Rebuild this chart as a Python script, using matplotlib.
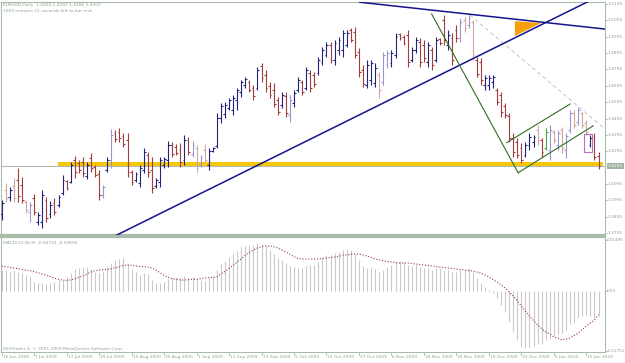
import matplotlib
matplotlib.use("Agg")
import matplotlib.pyplot as plt
from matplotlib.patches import Rectangle, Polygon
import numpy as np

W, H = 625, 363

title_text = "EURUSD,Daily  1.4264 1.4292 1.4186 1.4203"
timer_text = "1069 minutes 21 seconds left to bar end"
macd_text = "MACD(12,26,9) -0.00731 -0.00695"
copyright_text = "SSGTrader 4, \u00a9 2001-2009 MetaQuotes Software Corp."

date_labels = ["26 Jun 2009", "7 Jul 2009", "17 Jul 2009", "29 Jul 2009", "10 Aug 2009",
               "20 Aug 2009", "1 Sep 2009", "11 Sep 2009", "23 Sep 2009", "5 Oct 2009",
               "15 Oct 2009", "27 Oct 2009", "6 Nov 2009", "18 Nov 2009", "30 Nov 2009",
               "10 Dec 2009", "22 Dec 2009", "5 Jan 2010", "15 Jan 2010"]
date_idx = [0, 8, 16, 24, 32, 40, 48, 56, 64, 72, 80, 88, 96, 104, 112, 120, 128, 136, 144]

price_ticks = [1.5195, 1.5095, 1.4995, 1.4895, 1.4795, 1.4695, 1.4595, 1.4495,
               1.4395, 1.4295, 1.4095, 1.3995, 1.3895, 1.3795]
price_tick_labels = ["1.5195", "1.5095", "1.4995", "1.4895", "1.4795", "1.4695", "1.4595",
                     "1.4495", "1.4395", "1.4295", "1.4095", "1.3995", "1.3895", "1.3795"]
bid_price = 1.4203
macd_ticks = [0.01496, 0.0, -0.01751]
macd_tick_labels = ["0.01496", "0.00", "-0.01751"]

highs = [1.3997, 1.4101, 1.4077, 1.4132, 1.4193, 1.4138, 1.3997, 1.3985, 1.4034, 1.3924,
         1.4059, 1.4016, 1.3991, 1.4010, 1.4028, 1.4150, 1.4120, 1.4230, 1.4266, 1.4242,
         1.4260, 1.4230, 1.4285, 1.4211, 1.4181, 1.4089, 1.4260, 1.4431, 1.4425, 1.4437,
         1.4407, 1.4407, 1.4181, 1.4169, 1.4211, 1.4315, 1.4291, 1.4260, 1.4132, 1.4260,
         1.4260, 1.4358, 1.4352, 1.4340, 1.4346, 1.4395, 1.4382, 1.4358, 1.4334, 1.4272,
         1.4340, 1.4315, 1.4321, 1.4529, 1.4590, 1.4596, 1.4621, 1.4639, 1.4682, 1.4731,
         1.4749, 1.4731, 1.4700, 1.4810, 1.4835, 1.4792, 1.4718, 1.4712, 1.4627, 1.4657,
         1.4657, 1.4639, 1.4670, 1.4749, 1.4731, 1.4810, 1.4792, 1.4780, 1.4871, 1.4932,
         1.4963, 1.4963, 1.4975, 1.4993, 1.5036, 1.5036, 1.5048, 1.5055, 1.4926, 1.4822,
         1.4853, 1.4853, 1.4835, 1.4780, 1.4902, 1.4914, 1.4914, 1.5018, 1.5018, 1.5006,
         1.5036, 1.4932, 1.4993, 1.4987, 1.4975, 1.4963, 1.4932, 1.4993, 1.4987, 1.5128,
         1.5036, 1.5018, 1.5067, 1.5110, 1.5116, 1.5128, 1.5097, 1.4871, 1.4865, 1.4761,
         1.4761, 1.4761, 1.4682, 1.4657, 1.4590, 1.4529, 1.4407, 1.4376, 1.4346, 1.4352,
         1.4407, 1.4395, 1.4456, 1.4376, 1.4437, 1.4456, 1.4425, 1.4425, 1.4444, 1.4407,
         1.4547, 1.4547, 1.4566, 1.4535, 1.4486, 1.4395, 1.4407, 1.4292]
lows = [1.3875, 1.3985, 1.3991, 1.3985, 1.3985, 1.3979, 1.3918, 1.3863, 1.3906, 1.3845,
        1.3826, 1.3863, 1.3888, 1.3906, 1.3955, 1.4028, 1.4059, 1.4101, 1.4132, 1.4162,
        1.4138, 1.4126, 1.4169, 1.4138, 1.3997, 1.4010, 1.4169, 1.4193, 1.4352, 1.4352,
        1.4321, 1.4138, 1.4089, 1.4107, 1.4077, 1.4162, 1.4138, 1.4040, 1.4071, 1.4077,
        1.4193, 1.4199, 1.4260, 1.4272, 1.4199, 1.4211, 1.4272, 1.4260, 1.4169, 1.4199,
        1.4230, 1.4181, 1.4291, 1.4315, 1.4468, 1.4499, 1.4547, 1.4517, 1.4547, 1.4627,
        1.4682, 1.4657, 1.4609, 1.4670, 1.4718, 1.4657, 1.4621, 1.4566, 1.4517, 1.4560,
        1.4505, 1.4474, 1.4566, 1.4657, 1.4639, 1.4670, 1.4657, 1.4688, 1.4761, 1.4822,
        1.4871, 1.4835, 1.4822, 1.4883, 1.4871, 1.4932, 1.4963, 1.4865, 1.4749, 1.4688,
        1.4682, 1.4700, 1.4688, 1.4621, 1.4700, 1.4804, 1.4810, 1.4865, 1.4975, 1.4945,
        1.4810, 1.4841, 1.4896, 1.4810, 1.4841, 1.4810, 1.4792, 1.4841, 1.4945, 1.4945,
        1.4914, 1.4822, 1.4963, 1.4963, 1.5024, 1.5048, 1.4853, 1.4749, 1.4700, 1.4670,
        1.4670, 1.4682, 1.4578, 1.4505, 1.4499, 1.4352, 1.4260, 1.4254, 1.4224, 1.4260,
        1.4303, 1.4321, 1.4334, 1.4260, 1.4303, 1.4242, 1.4346, 1.4303, 1.4285, 1.4254,
        1.4407, 1.4437, 1.4456, 1.4437, 1.4395, 1.4321, 1.4242, 1.4186]
opens = [1.3912, 1.4059, 1.4016, 1.4083, 1.4120, 1.4089, 1.3985, 1.3924, 1.4010, 1.3863,
         1.3863, 1.3997, 1.3912, 1.3979, 1.3967, 1.4040, 1.4114, 1.4107, 1.4242, 1.4224,
         1.4230, 1.4144, 1.4254, 1.4199, 1.4156, 1.4028, 1.4181, 1.4242, 1.4407, 1.4413,
         1.4389, 1.4364, 1.4169, 1.4120, 1.4101, 1.4181, 1.4272, 1.4181, 1.4083, 1.4107,
         1.4211, 1.4242, 1.4334, 1.4321, 1.4303, 1.4242, 1.4364, 1.4279, 1.4315, 1.4211,
         1.4303, 1.4211, 1.4297, 1.4327, 1.4499, 1.4523, 1.4560, 1.4547, 1.4609, 1.4657,
         1.4700, 1.4718, 1.4682, 1.4682, 1.4816, 1.4761, 1.4694, 1.4670, 1.4609, 1.4578,
         1.4633, 1.4517, 1.4590, 1.4670, 1.4718, 1.4682, 1.4773, 1.4761, 1.4773, 1.4841,
         1.4883, 1.4945, 1.4853, 1.4914, 1.4914, 1.4945, 1.5036, 1.5024, 1.4902, 1.4792,
         1.4700, 1.4731, 1.4712, 1.4761, 1.4718, 1.4822, 1.4835, 1.4883, 1.5012, 1.4993,
         1.5006, 1.4853, 1.4914, 1.4963, 1.4945, 1.4841, 1.4914, 1.4853, 1.4981, 1.5097,
         1.4945, 1.4987, 1.5036, 1.4987, 1.5097, 1.5067, 1.5085, 1.4853, 1.4841, 1.4700,
         1.4700, 1.4718, 1.4670, 1.4639, 1.4572, 1.4511, 1.4376, 1.4352, 1.4315, 1.4272,
         1.4334, 1.4352, 1.4425, 1.4364, 1.4315, 1.4303, 1.4413, 1.4334, 1.4425, 1.4303,
         1.4425, 1.4529, 1.4474, 1.4529, 1.4468, 1.4334, 1.4382, 1.4264]
closes = [1.3979, 1.4010, 1.4059, 1.4010, 1.4022, 1.3997, 1.3936, 1.3967, 1.3924, 1.3906,
          1.4028, 1.3888, 1.3967, 1.3924, 1.4016, 1.4120, 1.4071, 1.4211, 1.4169, 1.4181,
          1.4162, 1.4211, 1.4193, 1.4150, 1.4028, 1.4077, 1.4242, 1.4395, 1.4370, 1.4376,
          1.4340, 1.4169, 1.4107, 1.4156, 1.4193, 1.4291, 1.4169, 1.4071, 1.4120, 1.4242,
          1.4248, 1.4334, 1.4279, 1.4285, 1.4230, 1.4364, 1.4291, 1.4334, 1.4193, 1.4260,
          1.4242, 1.4297, 1.4315, 1.4499, 1.4572, 1.4578, 1.4609, 1.4621, 1.4670, 1.4718,
          1.4737, 1.4670, 1.4633, 1.4792, 1.4743, 1.4682, 1.4639, 1.4584, 1.4535, 1.4639,
          1.4529, 1.4609, 1.4651, 1.4731, 1.4657, 1.4792, 1.4682, 1.4706, 1.4853, 1.4914,
          1.4945, 1.4853, 1.4957, 1.4975, 1.5018, 1.5018, 1.4975, 1.4883, 1.4780, 1.4706,
          1.4822, 1.4835, 1.4804, 1.4670, 1.4883, 1.4896, 1.4896, 1.5000, 1.4987, 1.4957,
          1.4841, 1.4914, 1.4975, 1.4841, 1.4865, 1.4945, 1.4822, 1.4975, 1.4957, 1.4975,
          1.5006, 1.4853, 1.4987, 1.5085, 1.5048, 1.5110, 1.4883, 1.4767, 1.4731, 1.4743,
          1.4743, 1.4749, 1.4596, 1.4535, 1.4517, 1.4376, 1.4291, 1.4272, 1.4242, 1.4334,
          1.4382, 1.4382, 1.4364, 1.4291, 1.4413, 1.4425, 1.4364, 1.4407, 1.4315, 1.4389,
          1.4529, 1.4456, 1.4547, 1.4456, 1.4413, 1.4376, 1.4260, 1.4203]
# bar shade category: U up, u light up, D down, d light down, G green
bar_kind = list("UdUdDDduDU" "UDUDUUDUDD" "DUDDDuUuDD" "DDDUUUDDUU"
                "UUDDDUDudu" "dUUUUUUUUU" "UDDUDDDDDU" "DuUUDUDDUU"
                "UDUUUUDDDD" "UUUduuUUDD" "DUUDDUDUDD" "UDDududDDU"
                "UUDDDDDDDU" "UUdDGududu" "ududdUDD")

macd_main = [0.00614, 0.00614, 0.00566, 0.00614, 0.00566, 0.00517, 0.00468, 0.00419, 0.00273, 0.00244,
             0.00224, 0.00205, 0.00224, 0.00273, 0.00322, 0.00322, 0.00419, 0.00536, 0.00634, 0.00663,
             0.00692, 0.00712, 0.00634, 0.00566, 0.00517, 0.00595, 0.00712, 0.00829, 0.00907, 0.00926,
             0.00955, 0.00829, 0.00634, 0.00566, 0.00468, 0.00517, 0.00497, 0.00322, 0.00224, 0.00244,
             0.00273, 0.00341, 0.00370, 0.00400, 0.00419, 0.00439, 0.00419, 0.00400, 0.00322, 0.00322,
             0.00302, 0.00370, 0.00419, 0.00614, 0.00809, 0.00887, 0.01004, 0.01082, 0.01180, 0.01277,
             0.01316, 0.01346, 0.01346, 0.01394, 0.01375, 0.01316, 0.01199, 0.01082, 0.00955, 0.00907,
             0.00809, 0.00731, 0.00692, 0.00663, 0.00673, 0.00731, 0.00761, 0.00761, 0.00848, 0.00965,
             0.01053, 0.01053, 0.01112, 0.01141, 0.01199, 0.01229, 0.01199, 0.01082, 0.00907, 0.00731,
             0.00673, 0.00673, 0.00644, 0.00556, 0.00614, 0.00702, 0.00761, 0.00848, 0.00878, 0.00848,
             0.00761, 0.00731, 0.00761, 0.00702, 0.00673, 0.00673, 0.00614, 0.00673, 0.00673, 0.00614,
             0.00614, 0.00556, 0.00556, 0.00614, 0.00614, 0.00673, 0.00556, 0.00380, 0.00234, 0.00117,
             0.00029, -0.00059, -0.00205, -0.00410, -0.00614, -0.00907, -0.01199, -0.01433, -0.01609, -0.01667,
             -0.01638, -0.01609, -0.01550, -0.01550, -0.01433, -0.01375, -0.01316, -0.01258, -0.01229, -0.01141,
             -0.00965, -0.00907, -0.00790, -0.00731, -0.00702, -0.00731, -0.00790, -0.00731]
macd_signal = [0.00731, 0.00712, 0.00692, 0.00673, 0.00653, 0.00634, 0.00614, 0.00595, 0.00566, 0.00536,
               0.00497, 0.00458, 0.00419, 0.00380, 0.00341, 0.00322, 0.00312, 0.00322, 0.00361, 0.00400,
               0.00439, 0.00497, 0.00556, 0.00595, 0.00614, 0.00624, 0.00634, 0.00653, 0.00683, 0.00712,
               0.00741, 0.00761, 0.00751, 0.00731, 0.00722, 0.00712, 0.00702, 0.00673, 0.00614, 0.00536,
               0.00458, 0.00400, 0.00361, 0.00341, 0.00322, 0.00322, 0.00332, 0.00341, 0.00341, 0.00361,
               0.00380, 0.00390, 0.00400, 0.00419, 0.00497, 0.00575, 0.00663, 0.00751, 0.00848, 0.00946,
               0.01043, 0.01131, 0.01199, 0.01258, 0.01297, 0.01316, 0.01316, 0.01297, 0.01258, 0.01199,
               0.01141, 0.01073, 0.01004, 0.00946, 0.00936, 0.00936, 0.00936, 0.00936, 0.00936, 0.00950,
               0.00965, 0.00980, 0.00995, 0.01010, 0.01053, 0.01053, 0.01082, 0.01082, 0.01082, 0.01053,
               0.01024, 0.00980, 0.00936, 0.00907, 0.00878, 0.00863, 0.00848, 0.00834, 0.00819, 0.00819,
               0.00819, 0.00805, 0.00790, 0.00775, 0.00761, 0.00746, 0.00731, 0.00717, 0.00702, 0.00688,
               0.00673, 0.00658, 0.00644, 0.00629, 0.00614, 0.00600, 0.00585, 0.00556, 0.00527, 0.00468,
               0.00410, 0.00336, 0.00263, 0.00175, 0.00088, -0.00029, -0.00146, -0.00292, -0.00439, -0.00585,
               -0.00731, -0.00863, -0.00995, -0.01097, -0.01199, -0.01258, -0.01346, -0.01390, -0.01433, -0.01404,
               -0.01375, -0.01302, -0.01229, -0.01126, -0.01024, -0.00936, -0.00848, -0.00695]

# drawn objects: anchors as (bar index, price)
blue_up_line = [(27.9, 1.3778), (144.2, 1.5207)]
blue_down_line = [(88.2, 1.5206), (148.6, 1.5042)]
orange_triangle = [(126.4, 1.5090), (126.4, 1.4999), (132.9, 1.5079)]
green_long = [(105.9, 1.5134), (127.2, 1.4164)]
green_lower = [(127.2, 1.4164), (145.7, 1.4451)]
green_upper = [(124.4, 1.4348), (140.0, 1.4584)]
grey_dashed = [(115.3, 1.5128), (148.6, 1.4431)]
pink_box = [(143.5, 1.4293), (145.3, 1.4399)]
yellow_zone = [(13.9, 1.4205), (148.1, 1.4229)]

kind_colors = {"U": "#23237d", "u": "#9797cf", "D": "#a23d3d", "d": "#d6a3a3",
               "G": "#47a447"}
frame_c = "#a9bba9"
text_c = "#8da38d"

fig = plt.figure(figsize=(W / 100, H / 100), dpi=100)
fig.patch.set_facecolor("white")

def fx(px):
    return px / W

def fy(py):
    return 1 - py / H

ax = fig.add_axes([fx(1), fy(235), 604 / W, 233 / H])
ax2 = fig.add_axes([fx(1), fy(352), 604 / W, 115 / H])
for a in (ax, ax2):
    a.set_facecolor("white")
    a.set_xticks([])
    a.set_yticks([])
    for s in a.spines.values():
        s.set_color(frame_c)
        s.set_linewidth(0.8)
    a.set_xlim(-0.17, 148.6)
ax.spines["bottom"].set_linewidth(1.6)
ax2.spines["top"].set_linewidth(1.6)
ax.set_ylim(1.37837, 1.52073)
ax2.set_ylim(-0.01784, 0.01580)

n = len(closes)
x = np.arange(n)
cols = [kind_colors[k] for k in bar_kind[:n]]

# yellow zone and bid line
(yx0, yp0), (yx1, yp1) = yellow_zone
ax.add_patch(Rectangle((yx0, yp0), yx1 - yx0, yp1 - yp0, facecolor="#f6c80a",
                       edgecolor="none", zorder=1))
ax.axhline(bid_price, color="#b4bcb4", lw=0.8, zorder=1.5)

ax.vlines(x, lows, highs, colors=cols, lw=0.8, zorder=3)
ax.hlines(opens, x - 0.45, x, colors=cols, lw=0.8, zorder=3)
ax.hlines(closes, x, x + 0.45, colors=cols, lw=0.8, zorder=3)

def extended(pts, x0=-5, x1=160):
    (a0, b0), (a1, b1) = pts
    k = (b1 - b0) / (a1 - a0)
    return [x0, x1], [b0 + k * (x0 - a0), b0 + k * (x1 - a0)]

ex, ey = extended(blue_up_line)
ax.plot(ex, ey, color="#14148c", lw=1.1, zorder=4)
ax.plot([p[0] for p in blue_down_line], [p[1] for p in blue_down_line],
        color="#14148c", lw=1.1, zorder=4)
ax.add_patch(Polygon(orange_triangle, closed=True, facecolor="#f5a00a",
                     edgecolor="none", zorder=3.5))
for seg in (green_long, green_lower, green_upper):
    ax.plot([p[0] for p in seg], [p[1] for p in seg], color="#2f6f22", lw=0.8, zorder=4)
ax.plot([p[0] for p in grey_dashed], [p[1] for p in grey_dashed], color="#c4c4c4",
        lw=0.7, ls=(0, (4, 3)), zorder=2)
(bx0, by0), (bx1, by1) = pink_box
ax.add_patch(Rectangle((bx0, by0), bx1 - bx0, by1 - by0, facecolor="none",
                       edgecolor="#c46ac4", lw=0.8, zorder=4))

# MACD
ax2.vlines(x, 0, macd_main, colors="#c9c9c9", lw=0.8, zorder=2)
ax2.plot(x, macd_signal, color="#9e3a55", lw=0.8, ls=(0, (1, 1.6)), zorder=3)

fs = 3.2
fig.text(fx(3), fy(5), title_text, fontsize=fs, color=text_c, va="center", ha="left")
fig.text(fx(3), fy(11), timer_text, fontsize=fs, color=text_c, va="center", ha="left")
fig.text(fx(3), fy(243), macd_text, fontsize=fs, color=text_c, va="center", ha="left")
fig.text(fx(3), fy(349), copyright_text, fontsize=fs, color=text_c, va="center", ha="left")

# right price scale
for p, lab in zip(price_ticks, price_tick_labels):
    yd = ax.transData.transform((0, p))[1]
    ypix = H - yd
    fig.text(fx(608), fy(ypix), lab, fontsize=fs, color=text_c, va="center", ha="left")
    fig.lines.append(plt.Line2D([fx(605), fx(607)], [fy(ypix), fy(ypix)],
                                transform=fig.transFigure, color=frame_c, lw=0.6))
yd = ax.transData.transform((0, bid_price))[1]
fig.text(fx(608), 1 - (H - yd) / H, "1.4203", fontsize=fs, color="white", va="center",
         ha="left", bbox=dict(boxstyle="square,pad=0.25", facecolor="#a3b3a3", edgecolor="none"))
for v, lab in zip(macd_ticks, macd_tick_labels):
    yd = ax2.transData.transform((0, v))[1]
    ypix = H - yd
    fig.text(fx(607), fy(ypix), lab, fontsize=3.0, color=text_c, va="center", ha="left")
    fig.lines.append(plt.Line2D([fx(605), fx(607)], [fy(ypix), fy(ypix)],
                                transform=fig.transFigure, color=frame_c, lw=0.6))

# dates
for i, lab in zip(date_idx, date_labels):
    xd = ax2.transData.transform((i, 0))[0]
    fig.text((xd + 1) / W, fy(357), lab, fontsize=fs, color=text_c, va="center", ha="left")
    fig.lines.append(plt.Line2D([xd / W, xd / W], [fy(352), fy(355)],
                                transform=fig.transFigure, color=frame_c, lw=0.6))

fig.savefig("out.png", dpi=100)
